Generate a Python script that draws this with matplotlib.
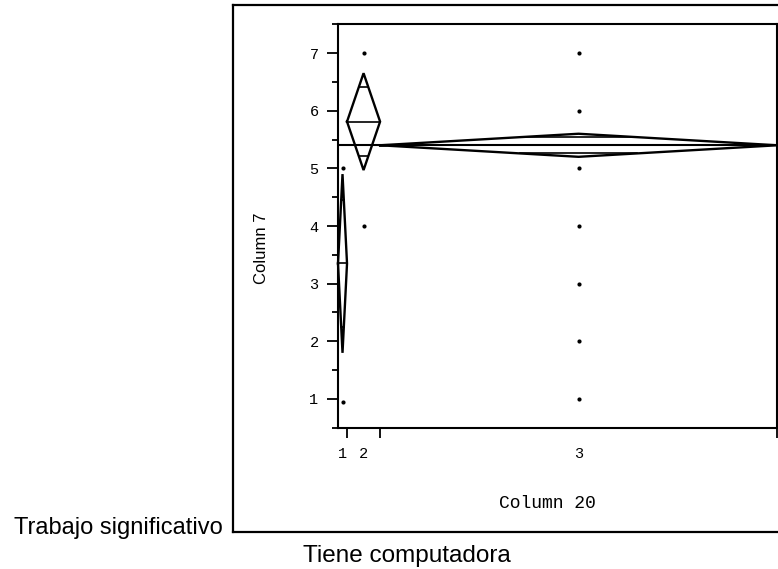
import numpy as np
import matplotlib
matplotlib.use("Agg")
import matplotlib.pyplot as plt
from matplotlib.lines import Line2D

# Group data (one-way layout, Column 7 by Column 20)
groups = ["1", "2", "3"]
group_n = [3, 11, 132]
group_means = [3.35, 5.81, 5.40]
ci_low = [1.80, 4.97, 5.20]
ci_high = [4.90, 6.65, 5.60]
grand_mean = 5.41

# observed responses per group
points_g1 = [5, 0.95]
points_g2 = [7, 4]
points_g3 = [1, 2, 3, 4, 5, 6, 7]
group_points = [points_g1, points_g2, points_g3]

y_ticks = [1, 2, 3, 4, 5, 6, 7]

W, H = 778, 569
fig = plt.figure(figsize=(W / 100, H / 100), dpi=100)
fig.patch.set_facecolor("white")


def fx(px):
    return px / W


def fy(py):
    return 1 - py / H


ax_left, ax_right, ax_top, ax_bottom = 338, 777, 24.2, 427.8
ax = fig.add_axes([fx(ax_left), fy(ax_bottom), (ax_right - ax_left) / W,
                   (ax_bottom - ax_top) / H])

total = sum(group_n)
bounds = np.concatenate([[0], np.cumsum(group_n)])
centers = (bounds[:-1] + bounds[1:]) / 2

lw_d = 1.7
for i in range(len(groups)):
    x0, x1 = bounds[i], bounds[i + 1]
    xc = centers[i]
    m, lo, hi = group_means[i], ci_low[i], ci_high[i]
    # means diamond
    ax.plot([x0, xc, x1, xc, x0], [m, hi, m, lo, m], color="black",
            lw=lw_d, solid_joinstyle="miter", clip_on=False)
    ax.plot([x0, x1], [m, m], color="black", lw=1.2)
    # overlap marks
    hw = (hi - lo) / 2
    d = hw / np.sqrt(2)
    half = (x1 - x0) / 2 * (1 - 1 / np.sqrt(2))
    for lev in (m + d, m - d):
        ax.plot([xc - half, xc + half], [lev, lev], color="black", lw=1.2)
    # points
    ax.plot([xc] * len(group_points[i]), group_points[i], "o", color="black",
            ms=3.0, mew=0)

ax.axhline(grand_mean, color="black", lw=1.5)

ax.set_xlim(0, total)
ax.set_ylim(0.5, 7.5)

mono = "Liberation Mono"
sans = "Liberation Sans"

ax.set_yticks(y_ticks)
ax.set_yticks(np.arange(0.5, 7.6, 1.0), minor=True)
ax.set_yticklabels([str(v) for v in y_ticks], family=mono, fontsize=11)
ax.tick_params(axis="y", which="major", direction="out", length=8, width=1.3,
               pad=6)
ax.tick_params(axis="y", which="minor", direction="out", length=4.5, width=1.3)

ax.set_xticks(bounds[1:])
ax.set_xticklabels([""] * len(bounds[1:]))
ax.set_xticks(centers, minor=True)
ax.set_xticklabels(groups, minor=True, family=mono, fontsize=11)
ax.tick_params(axis="x", which="major", direction="out", length=7, width=1.3)
ax.tick_params(axis="x", which="minor", length=0, pad=14)

for s in ax.spines.values():
    s.set_linewidth(1.5)

fig.text(fx(262), fy(248), "Column 7", rotation=90, ha="center", va="center",
         family=sans, fontsize=12)
fig.text(fx(547), fy(503), "Column 20", ha="center", va="center",
         family=mono, fontsize=13)

# outer report frame
frame_kw = dict(color="black", lw=1.6, transform=fig.transFigure)
fig.add_artist(Line2D([fx(233), fx(233)], [fy(5), fy(532)], **frame_kw))
fig.add_artist(Line2D([fx(233), 1.0], [fy(5), fy(5)], **frame_kw))
fig.add_artist(Line2D([fx(233), 1.0], [fy(532), fy(532)], **frame_kw))

fig.text(fx(223), fy(534), "Trabajo significativo", ha="right",
         va="baseline", family=sans, fontsize=17)
fig.text(fx(407), fy(562), "Tiene computadora", ha="center",
         va="baseline", family=sans, fontsize=17.5)

fig.savefig("out.png", dpi=100)
